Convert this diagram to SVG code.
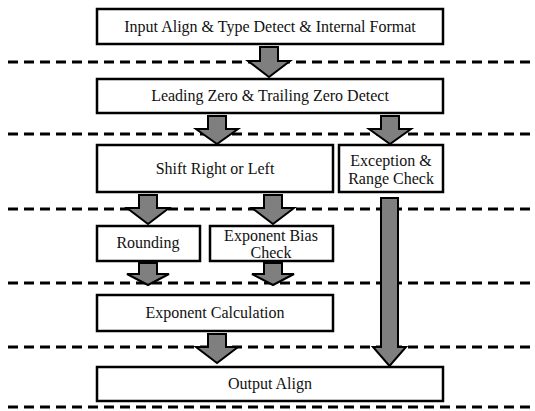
<svg xmlns="http://www.w3.org/2000/svg" width="535" height="411" viewBox="0 0 535 411">
<style>
.box{fill:#fff;stroke:#000;stroke-width:2.5}
.t{font-family:"Liberation Serif","Times New Roman",serif;font-size:16px;fill:#111;text-anchor:middle}
.dash{stroke:#000;stroke-width:3;stroke-dasharray:10 6;fill:none}
.arr{fill:#7f7f7f;stroke:#000;stroke-width:2;stroke-linejoin:miter}
</style>
<rect width="535" height="411" fill="#fff"/>
<g id="separators">
<line class="dash" x1="8" y1="62" x2="535" y2="62"/>
<line class="dash" x1="8" y1="134" x2="535" y2="134"/>
<line class="dash" x1="8" y1="209" x2="535" y2="209"/>
<line class="dash" x1="8" y1="283" x2="535" y2="283"/>
<line class="dash" x1="8" y1="347" x2="535" y2="347"/>
<line class="dash" x1="8" y1="407" x2="535" y2="407"/>
</g>
<g id="n1"><rect class="box" x="97" y="9" width="346" height="35"/><text class="t" x="270" y="32">Input Align &amp; Type Detect &amp; Internal Format</text></g>
<g id="n2"><rect class="box" x="97" y="79" width="346" height="34"/><text class="t" x="270" y="101">Leading Zero &amp; Trailing Zero Detect</text></g>
<g id="n3"><rect class="box" x="97" y="145" width="236" height="47"/><text class="t" x="215" y="174">Shift Right or Left</text></g>
<g id="n4"><rect class="box" x="339" y="145" width="104" height="47"/><text class="t" x="391" y="166">Exception &amp;</text><text class="t" x="391" y="184">Range Check</text></g>
<g id="n5"><rect class="box" x="97" y="226" width="103" height="35"/><text class="t" x="148" y="248">Rounding</text></g>
<g id="n6"><rect class="box" x="210" y="226" width="123" height="35"/><text class="t" x="271" y="241">Exponent Bias</text><text class="t" x="271" y="258">Check</text></g>
<g id="n7"><rect class="box" x="97" y="295" width="236" height="36"/><text class="t" x="215" y="318">Exponent Calculation</text></g>
<g id="n8"><rect class="box" x="97" y="367" width="346" height="34"/><text class="t" x="270" y="389">Output Align</text></g>
<g id="connectors">
<path class="arr" d="M260,47 H278 V61 H290 L269,77 L248,61 H260 Z"/>
<path class="arr" d="M208,116 H226 V129 H238 L217,144 L196,129 H208 Z"/>
<path class="arr" d="M381,116 H399 V129 H411 L390,144 L369,129 H381 Z"/>
<path class="arr" d="M139,195 H157 V208 H169 L148,224 L127,208 H139 Z"/>
<path class="arr" d="M264,195 H282 V208 H294 L273,224 L252,208 H264 Z"/>
<path class="arr" d="M139,263 H157 V274 H169 L148,285 L127,274 H139 Z"/>
<path class="arr" d="M264,263 H282 V274 H294 L273,285 L252,274 H264 Z"/>
<path class="arr" d="M208,334 H226 V347 H238 L217,363 L196,347 H208 Z"/>
<path class="arr" d="M381,198 H398 V347 H406 L389.5,366 L373,347 H381 Z"/>
</g>
</svg>
